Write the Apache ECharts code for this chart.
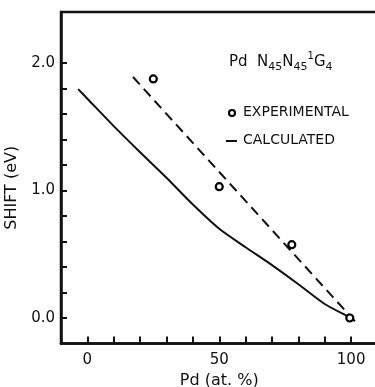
<!DOCTYPE html>
<html>
<head>
<meta charset="utf-8">
<script src="https://cdn.jsdelivr.net/npm/echarts@6/dist/echarts.min.js"></script>
<style>
html,body{margin:0;padding:0;background:#fff;}
#chart{width:375px;height:387px;}
</style>
</head>
<body>
<div id="chart"></div>
<script>
// ---- data ----
const experimentalX = [25, 50, 77.5, 99.5];
const experimentalY = [1.875, 1.03, 0.575, 0.0];

const calculatedSolidX = [-3.5, 0, 10, 20, 30, 40, 50, 60, 70, 80, 90, 100, 101];
const calculatedSolidY = [1.795, 1.72, 1.505, 1.3, 1.1, 0.89, 0.70, 0.555, 0.415, 0.265, 0.11, 0.0, -0.01];

const calculatedDashedX = [17.3, 102.5];
const calculatedDashedY = [1.89, -0.05];

const xTickValues = [0, 10, 20, 30, 40, 50, 60, 70, 80, 90, 100];
const xLabelValues = [0, 50, 100];
const yTickValues = [0, 0.2, 0.4, 0.6, 0.8, 1.0, 1.2, 1.4, 1.6, 1.8, 2.0];
const yLabelValues = [0, 1, 2];

const xAxisTitle = 'Pd (at. %)';
const yAxisTitle = 'SHIFT (eV)';
const legendExperimental = 'EXPERIMENTAL';
const legendCalculated = 'CALCULATED';

// ---- chart ----
const zip = (xs, ys) => xs.map((x, i) => [x, ys[i]]);
const INK = '#111';
const FONT = 'DejaVu Sans';

const chart = echarts.init(document.getElementById('chart'), null, {renderer: 'canvas'});
chart.setOption({
  animation: false,
  backgroundColor: '#fff',
  grid: {
    left: 61, top: 12, right: -2.5, bottom: 43.5,
    containLabel: false,
    outerBoundsMode: 'none',
    show: true, borderColor: INK, borderWidth: 2.5, backgroundColor: 'transparent'
  },
  xAxis: {
    type: 'value', min: -10, max: 110, interval: 10,
    name: xAxisTitle, nameLocation: 'middle', nameGap: 27,
    nameTextStyle: {fontFamily: FONT, fontSize: 16, color: INK},
    axisLine: {show: true, onZero: false, lineStyle: {color: INK, width: 2.5}},
    axisTick: {show: true, inside: true, length: 7, lineStyle: {color: INK, width: 2}, customValues: xTickValues},
    axisLabel: {show: true, margin: 9, fontFamily: FONT, fontSize: 15, color: INK, customValues: xLabelValues},
    splitLine: {show: false}
  },
  yAxis: {
    type: 'value', min: -0.2, max: 2.4, interval: 0.2,
    name: yAxisTitle, nameLocation: 'middle', nameGap: 33, nameRotate: 90,
    nameTextStyle: {fontFamily: FONT, fontSize: 16, color: INK, padding: [0, 20, 0, 0]},
    axisLine: {show: true, onZero: false, lineStyle: {color: INK, width: 2.5}},
    axisTick: {show: true, inside: true, length: 6, lineStyle: {color: INK, width: 2}, customValues: yTickValues},
    axisLabel: {show: true, margin: 6, fontFamily: FONT, fontSize: 15, color: INK, customValues: yLabelValues,
      formatter: v => Number(v).toFixed(1)},
    splitLine: {show: false}
  },
  series: [
    {
      name: legendCalculated + ' (solid)', type: 'line', data: zip(calculatedSolidX, calculatedSolidY),
      showSymbol: false, smooth: 0.25, lineStyle: {color: INK, width: 2}, z: 3
    },
    {
      name: legendCalculated, type: 'line', data: zip(calculatedDashedX, calculatedDashedY),
      showSymbol: false, lineStyle: {color: INK, width: 2, type: [10, 6]}, z: 3
    },
    {
      name: legendExperimental, type: 'scatter', data: zip(experimentalX, experimentalY),
      symbol: 'circle', symbolSize: 7,
      itemStyle: {color: '#fff', borderColor: '#000', borderWidth: 2.2, opacity: 1}, z: 4
    }
  ],
  graphic: [
    {
      type: 'text', left: 229, top: 51,
      style: {
        text: '{a|Pd  N}{s|45}{a|N}{s|45}{p|1}{a|G}{s|4}',
        fill: INK,
        rich: {
          a: {fontFamily: FONT, fontSize: 15, lineHeight: 22, fill: INK},
          s: {fontFamily: FONT, fontSize: 11, lineHeight: 14, verticalAlign: 'bottom', fill: INK},
          p: {fontFamily: FONT, fontSize: 10, lineHeight: 12, verticalAlign: 'top', fill: INK}
        }
      }
    },
    {
      type: 'circle', shape: {cx: 232, cy: 113, r: 3},
      style: {fill: '#fff', stroke: '#000', lineWidth: 2.2}
    },
    {
      type: 'text', left: 243, top: 105,
      style: {text: legendExperimental, fontFamily: FONT, fontSize: 14, fill: INK}
    },
    {
      type: 'line', shape: {x1: 226, y1: 141, x2: 237, y2: 141},
      style: {stroke: INK, lineWidth: 2}
    },
    {
      type: 'text', left: 243, top: 133,
      style: {text: legendCalculated, fontFamily: FONT, fontSize: 14, fill: INK}
    }
  ]
});
</script>
</body>
</html>
